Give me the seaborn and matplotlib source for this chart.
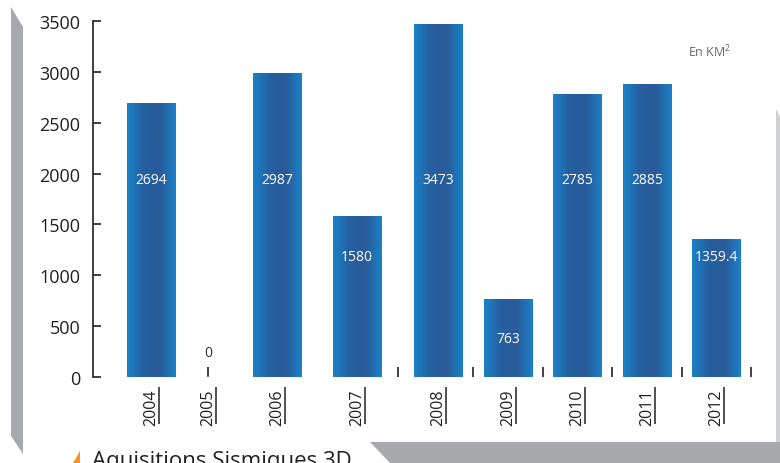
import matplotlib
matplotlib.use("Agg")
import matplotlib.pyplot as plt
import numpy as np
import seaborn as sns
from matplotlib.colors import LinearSegmentedColormap
from matplotlib.patches import Polygon

# data
years = ["2004", "2005", "2006", "2007", "2008", "2009", "2010", "2011", "2012"]
surface = [2694, 0, 2987, 1580, 3473, 763, 2785, 2885, 1359.4]
value_labels = ["2694", "0", "2987", "1580", "3473", "763", "2785", "2885", "1359.4"]

# layout (bar centres in pixel units, label heights in axis units)
xpos = [151, 208, 277, 357, 438, 508, 577, 647, 716]
label_y = [1937, 240, 1937, 1180, 1937, 374, 1937, 1937, 1180]

sns.set_style("white")
plt.rcParams["font.family"] = ["Open Sans", "DejaVu Sans"]
plt.rcParams["mathtext.fontset"] = "custom"
plt.rcParams["mathtext.rm"] = "Open Sans"
plt.rcParams["mathtext.it"] = "Open Sans"

W, H = 780, 464
fig = plt.figure(figsize=(7.8, 4.64), dpi=100)
fig.patch.set_facecolor("white")

def px(pts):
    return [(x / W, 1 - y / H) for x, y in pts]

# grey 3D frame
grey = "#a7a9ac"
fig.patches.append(Polygon(px([(11, 8), (23, 28), (23, 455), (11, 437)]),
                           closed=True, transform=fig.transFigure, facecolor=grey, edgecolor="none"))
fig.patches.append(Polygon(px([(776, 110), (780, 118), (780, 443), (776, 443)]),
                           closed=True, transform=fig.transFigure, facecolor="#cfd0d2", edgecolor="none"))
fig.patches.append(Polygon(px([(370, 443), (780, 443), (780, 464), (390, 464)]),
                           closed=True, transform=fig.transFigure, facecolor=grey, edgecolor="none"))
fig.patches.append(Polygon(px([(73, 464), (80, 452), (80, 464)]),
                           closed=True, transform=fig.transFigure, facecolor="#f7941d", edgecolor="none"))

left, right = 93, 770
ax = fig.add_axes([left / W, 1 - 378 / H, (right - left) / W, (378 - 22) / H])

sns.barplot(x=xpos, y=surface, native_scale=True, width=0.85, color="#2262a3", ax=ax)

ax.set_xlim(left, right)
ax.set_ylim(0, 3500)

# gradient fill on bars
cmap = LinearSegmentedColormap.from_list("bar", ["#1a82c7", "#2560a0", "#2a5a99", "#1a82c7"])
grad = np.linspace(0, 1, 256).reshape(1, -1)
for p in list(ax.patches):
    x0, y0 = p.get_x(), p.get_y()
    w, h = p.get_width(), p.get_height()
    if h <= 0:
        continue
    im = ax.imshow(grad, cmap=cmap, aspect="auto", extent=[x0, x0 + w, y0, y0 + h], zorder=2)
    im.set_clip_path(p)
    p.set_facecolor("none")
    p.set_edgecolor("none")
ax.set_xlim(left, right)
ax.set_ylim(0, 3500)

for x, ly, txt, v in zip(xpos, label_y, value_labels, surface):
    ax.text(x, ly, txt, ha="center", va="center", fontsize=10,
            color="white" if v > 0 else "#333333", zorder=3)

# axes styling
for s in ["top", "right", "bottom"]:
    ax.spines[s].set_visible(False)
ax.spines["left"].set_color("#231f20")
ax.spines["left"].set_linewidth(1.2)
ax.set_yticks(np.arange(0, 3501, 500))
ax.tick_params(axis="y", direction="in", length=6, width=1.2, color="#231f20",
               labelsize=13, labelcolor="#231f20", pad=9, left=True)
ax.set_xticks(xpos)
ax.set_xticklabels(years, rotation=90, fontsize=11.5, color="#231f20")
ax.tick_params(axis="x", length=0, pad=8)
ax.xaxis.remove_overlapping_locs = False
minor = [xpos[1]] + [(a + b) / 2 for a, b in zip(xpos[3:-1], xpos[4:])] + [xpos[-1] + 35]
ax.set_xticks(minor, minor=True)
ax.tick_params(axis="x", which="minor", direction="in", length=7, width=1.2,
               color="#231f20", bottom=True)
ax.set_xlabel("")
ax.set_ylabel("")
ax.patch.set_alpha(0)

# underline of the rotated year labels
ax.vlines([x + 8 for x in xpos], -0.028, -0.132, transform=ax.get_xaxis_transform(),
          colors="#231f20", linewidth=1.1, clip_on=False)

fig.text(710 / W, 1 - 52 / H, r"En KM$^{2}$", ha="center", va="center", fontsize=9, color="#666666")
fig.text(92 / W, 1 - 451 / H, "Aquisitions Sismiques 3D", ha="left", va="top",
         fontsize=16, color="#231f20")

fig.savefig("out.png", dpi=100, facecolor="white")
